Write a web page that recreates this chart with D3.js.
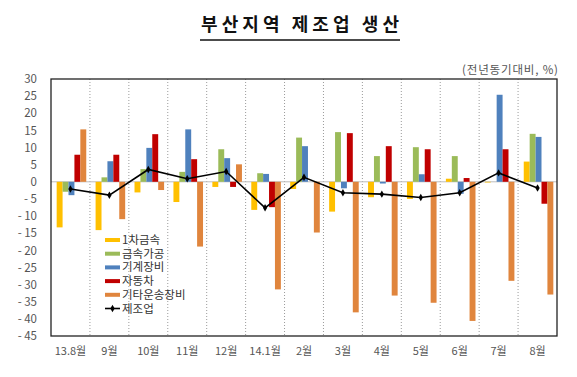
<!DOCTYPE html>
<html>
<head>
<meta charset="utf-8">
<script src="https://cdn.jsdelivr.net/npm/d3@7"></script>
<style>
  body { margin: 0; background: #fff; }
  text { font-family: "Noto Sans CJK KR", "Noto Sans", sans-serif; }
</style>
</head>
<body>
<div class="chart"></div>
<script>
// Data
const months = ["13.8월", "9월", "10월", "11월", "12월", "14.1월", "2월", "3월", "4월", "5월", "6월", "7월", "8월"];
const seriesNames = ["1차금속", "금속가공", "기계장비", "자동차", "기타운송장비"];
const primaryMetal = [-13.3, -14.1, -3.1, -5.9, -1.5, -8.2, -2.1, -8.7, -4.5, -5.0, 0.9, -0.2, 5.9];
const metalWorking = [-2.9, 1.3, 3.7, 2.9, 9.5, 2.5, 12.9, 14.5, 7.5, 10.1, 7.5, 0.0, 14.0];
const machinery = [-3.9, 6.0, 9.9, 15.3, 6.9, 2.3, 10.4, -1.9, -0.5, 2.2, -3.5, 25.4, 13.1];
const autos = [7.9, 7.9, 13.9, 6.6, -1.5, -7.4, 0.0, 14.2, 10.4, 9.5, 1.1, 9.5, -6.4];
const otherTransport = [15.3, -10.9, -2.4, -18.9, 5.1, -31.4, -14.8, -38.1, -33.2, -35.3, -40.6, -28.9, -32.9];
const manufacturing = [-2.1, -3.9, 3.6, 0.9, 3.0, -7.6, 1.3, -3.2, -3.6, -4.6, -3.2, 2.6, -1.8];
const yTicks = [30, 25, 20, 15, 10, 5, 0, -5, -10, -15, -20, -25, -30, -35, -40, -45];

const colors = ["#FFC000", "#9BBB59", "#4F81BD", "#C00000", "#E0853D"];
const barSeries = [primaryMetal, metalWorking, machinery, autos, otherTransport];

const svg = d3.select(".chart")
  .append("svg")
  .attr("width", 577)
  .attr("height", 377);

const plot = { left: 51, right: 557, top: 79, bottom: 336 };

// Scales
const x0 = d3.scaleBand()
  .domain(months)
  .range([plot.left, plot.right])
  .padding(0);

const gap = x0.bandwidth() * 0.24;
const x1 = d3.scaleBand()
  .domain(seriesNames)
  .range([gap / 2 + 1, x0.bandwidth() - gap / 2 + 1])
  .padding(0);

const y = d3.scaleLinear()
  .domain([-45, 30])
  .range([plot.bottom, plot.top]);

// Title
svg.append("text")
  .attr("x", 300)
  .attr("y", 31)
  .attr("text-anchor", "middle")
  .attr("font-size", 18)
  .attr("font-weight", 700)
  .attr("textLength", 198)
  .attr("lengthAdjust", "spacing")
  .attr("fill", "#111")
  .text("부산지역 제조업 생산");

svg.append("line")
  .attr("x1", 200).attr("x2", 400)
  .attr("y1", 40).attr("y2", 40)
  .attr("stroke", "#111")
  .attr("stroke-width", 1.5);

// Unit label
svg.append("text")
  .attr("x", 558)
  .attr("y", 74)
  .attr("text-anchor", "end")
  .attr("font-size", 11.5)
  .attr("textLength", 96)
  .attr("lengthAdjust", "spacing")
  .attr("fill", "#555")
  .text("(전년동기대비, %)");

// Vertical dotted separators
svg.append("g")
  .selectAll("line")
  .data(months.slice(1))
  .join("line")
    .attr("x1", d => x0(d)).attr("x2", d => x0(d))
    .attr("y1", plot.top).attr("y2", plot.bottom)
    .attr("stroke", "#9a9a9a")
    .attr("stroke-width", 1)
    .attr("stroke-dasharray", "1,2");

// Zero line
svg.append("line")
  .attr("x1", plot.left).attr("x2", plot.right)
  .attr("y1", y(0)).attr("y2", y(0))
  .attr("stroke", "#bdbdbd")
  .attr("stroke-width", 1);

// Bars
const groups = svg.append("g")
  .selectAll("g")
  .data(months)
  .join("g")
    .attr("transform", d => `translate(${x0(d)},0)`);

groups.selectAll("rect")
  .data((m, i) => seriesNames.map((s, j) => ({ s, j, v: barSeries[j][i] })))
  .join("rect")
    .attr("x", d => x1(d.s))
    .attr("width", x1.bandwidth())
    .attr("y", d => y(Math.max(0, d.v)))
    .attr("height", d => Math.abs(y(d.v) - y(0)))
    .attr("fill", d => colors[d.j]);

// Manufacturing line
const cx = m => x0(m) + x0.bandwidth() / 2;
const lineData = months.map((m, i) => ({ m, v: manufacturing[i] }));

svg.append("path")
  .datum(lineData)
  .attr("fill", "none")
  .attr("stroke", "#000")
  .attr("stroke-width", 1.6)
  .attr("d", d3.line().x(d => cx(d.m)).y(d => y(d.v)));

svg.append("g")
  .selectAll("path")
  .data(lineData)
  .join("path")
    .attr("transform", d => `translate(${cx(d.m)},${y(d.v)})`)
    .attr("d", d3.symbol(d3.symbolDiamond, 16))
    .attr("fill", "#000");

// Plot frame
svg.append("rect")
  .attr("x", plot.left).attr("y", plot.top)
  .attr("width", plot.right - plot.left).attr("height", plot.bottom - plot.top)
  .attr("fill", "none")
  .attr("stroke", "#222")
  .attr("stroke-width", 1.3);

// Y axis labels
const yAxis = d3.axisLeft(y)
  .tickValues(yTicks)
  .tickSize(0)
  .tickPadding(14)
  .tickFormat(d => d < 0 ? "- " + Math.abs(d) : d);

svg.append("g")
  .attr("transform", `translate(${plot.left},0)`)
  .call(yAxis)
  .call(g => g.select(".domain").remove())
  .call(g => g.selectAll("text")
    .attr("font-size", 11.5)
    .attr("fill", "#555")
    .attr("font-family", "\"Noto Sans\", sans-serif"));

// X axis labels
const xAxis = d3.axisBottom(x0)
  .tickSize(0)
  .tickPadding(11);

svg.append("g")
  .attr("transform", `translate(0,${plot.bottom})`)
  .call(xAxis)
  .call(g => g.select(".domain").remove())
  .call(g => g.selectAll("text")
    .attr("font-size", 11)
    .attr("fill", "#555"));

// Legend
const legendItems = seriesNames.map((s, i) => ({ s, color: colors[i], line: false }))
  .concat([{ s: "제조업", color: "#000", line: true }]);

const legend = svg.append("g")
  .selectAll("g")
  .data(legendItems)
  .join("g")
    .attr("transform", (d, i) => `translate(105,${240 + i * 13.7})`);

legend.filter(d => !d.line)
  .append("rect")
    .attr("x", 0).attr("y", -2)
    .attr("width", 15).attr("height", 4)
    .attr("fill", d => d.color);

legend.filter(d => d.line)
  .append("line")
    .attr("x1", 0).attr("x2", 15)
    .attr("stroke", "#000")
    .attr("stroke-width", 1.6);

legend.filter(d => d.line)
  .append("path")
    .attr("transform", "translate(7.5,0)")
    .attr("d", d3.symbol(d3.symbolDiamond, 16))
    .attr("fill", "#000");

legend.append("text")
  .attr("x", 17)
  .attr("y", 4)
  .attr("font-size", 11.5)
  .attr("fill", "#333")
  .text(d => d.s);
</script>
</body>
</html>
